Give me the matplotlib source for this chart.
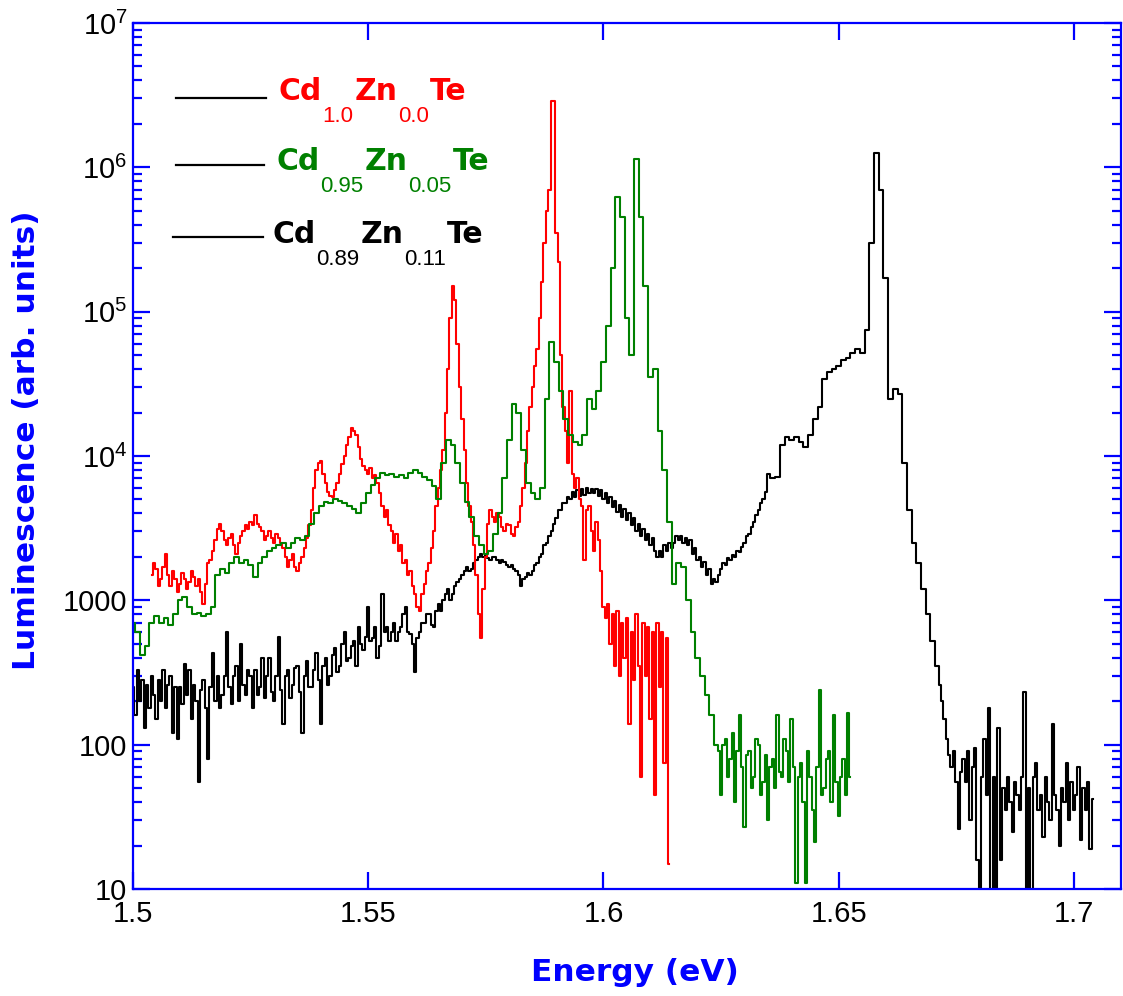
import numpy as np
import matplotlib
matplotlib.use("Agg")
import matplotlib.pyplot as plt
from matplotlib.ticker import FixedLocator, FixedFormatter, NullLocator
from matplotlib.lines import Line2D

# ---------------- data ----------------
# Each spectrum is stored as segments: (first energy in eV, sampling step in eV, values)

# Cd1.0Zn0.0Te  (1.5040 ... 1.6140 eV, 0.5 meV steps)
red_start, red_step = 1.5040, 0.0005
red_vals = [
    1500, 1800, 1650, 1250, 1400, 1700, 2100, 1500, 1250, 1600,
    1400, 1150, 1300, 1550, 1400, 1200, 1350, 1600, 1450, 1250,
    1400, 1150, 950, 1300, 1800, 1900, 2200, 2600, 3100, 3400,
    3000, 2600, 2400, 2700, 2900, 2400, 2100, 2500, 2800, 3000,
    3300, 3100, 3500, 3300, 3900, 3400, 3200, 3000, 2600, 2800,
    3000, 2700, 2500, 2900, 2700, 2500, 2300, 2000, 1700, 1900,
    2100, 1700, 1600, 1800, 2000, 2300, 2700, 3300, 4200, 6000,
    8000, 9000, 9300, 7500, 6500, 5600, 5300, 5200, 5800, 6500,
    7500, 8800, 10000, 12000, 13500, 15600, 15000, 14000, 11500, 9500,
    8500, 8000, 7500, 8200, 7000, 7400, 6500, 5500, 4500, 3800,
    4200, 3300, 3000, 2500, 2900, 2200, 2400, 1800, 1900, 1500,
    1600, 1250, 1100, 900, 850, 1100, 1300, 1600, 1800, 2300,
    3000, 4500, 6000, 8000, 11000, 20000, 40000, 90000, 150000, 120000,
    60000, 30000, 18000, 11000, 6500, 4500, 3500, 2400, 1500, 800,
    550, 1200, 2000, 3400, 4200, 3800, 3500, 4000, 3800, 3200,
    3000, 3400, 3300, 2900, 2800, 3200, 3500, 4500, 6000, 9000,
    15000, 22000, 30000, 42000, 55000, 90000, 160000, 300000, 500000, 700000,
    2900000, 2900000, 350000, 220000, 50000, 22000, 15000, 9000, 28000, 7500,
    6000, 7000, 5000, 4500, 1900, 4200, 4500, 3000, 2200, 3500,
    2600, 1600, 900, 750, 950, 500, 800, 350, 850, 300,
    700, 400, 750, 140, 600, 280, 800, 350, 60, 700,
    300, 650, 150, 600, 45, 700, 250, 600, 75, 550,
    15,
]

# Cd0.95Zn0.05Te  main part (1 meV steps) and noisy tail (0.5 meV steps)
green_start, green_step = 1.500, 0.001
green_vals = [
    700, 600, 420, 480, 700, 780, 700, 750, 680, 800,
    1000, 1050, 900, 800, 820, 780, 800, 900, 1500, 1650,
    1550, 1800, 2000, 1800, 1900, 1750, 1450, 1800, 2000, 2200,
    2300, 2400, 2500, 2300, 2500, 2700, 2600, 2800, 3400, 4000,
    4500, 4800, 4700, 5000, 4900, 4700, 4500, 4300, 4000, 4700,
    5500, 6300, 7000, 7600, 7400, 7500, 7200, 7400, 7000, 7600,
    8000, 7600, 7200, 6800, 6200, 5000, 9000, 13000, 12000, 9000,
    6500, 4800, 3800, 2800, 2400, 2100, 2200, 2900, 4000, 7000,
    13000, 23000, 20000, 11000, 6500, 5500, 5000, 6000, 25000, 62000,
    45000, 28000, 18000, 14000, 12500, 12000, 14000, 25000, 21000, 28000,
    45000, 80000, 200000, 620000, 450000, 90000, 50000, 1150000, 450000, 150000,
    35000, 40000, 15000, 8000, 3500, 1300, 1800, 1700, 1000, 600,
    400, 300, 220, 160, 100,
]
green_tail_start, green_tail_step = 1.6245, 0.0005
green_tail_vals = [
    90, 45, 100, 110, 60, 80, 120, 40, 90, 160,
    70, 27, 85, 90, 50, 60, 110, 100, 45, 55,
    85, 30, 70, 80, 50, 160, 65, 60, 110, 90,
    55, 150, 70, 11, 60, 75, 40, 11, 90, 60,
    35, 21, 70, 240, 45, 50, 80, 90, 40, 160,
    55, 32, 60, 80, 45, 165, 60,
]

# Cd0.89Zn0.11Te  three segments
black_a_start, black_a_step = 1.5000, 0.0005
black_a_vals = [
    250, 160, 330, 200, 280, 130, 260, 180, 300, 220,
    150, 280, 200, 330, 180, 260, 300, 120, 250, 110,
    250, 190, 360, 220, 330, 150, 260, 200, 55, 240,
    280, 180, 80, 250, 430, 200, 300, 180, 220, 300,
    600, 250, 190, 300, 350, 200, 500, 260, 220, 330,
    300, 180, 330, 220, 250, 400, 210, 300, 400, 230,
    200, 300, 560, 240, 140, 300, 330, 210, 260, 340,
    350, 230, 120, 300, 380, 250, 250, 330, 430, 280,
    140, 350, 400, 260, 300, 420, 470, 320, 350, 500,
    600, 380, 400, 480, 520, 350, 650, 500, 450, 560,
    900, 520, 550, 650, 400, 480, 1100, 600, 650, 520,
    600, 700, 520, 600, 650, 800, 900, 600, 580, 500,
    320, 550, 600, 700, 700, 800, 800, 680, 650, 850,
    950, 850, 1000, 1100, 1200, 1000, 1100, 1250, 1350, 1400,
    1500, 1600, 1700, 1600, 1650, 1800, 1900, 2000, 2100, 2000,
    2050, 1950, 1900, 2000, 2000, 1900, 1800, 1900, 1850, 1750,
    1700, 1750, 1650, 1600, 1500, 1250, 1400, 1450, 1550, 1500,
    1600, 1750, 1800, 2000, 2100, 2400, 2500, 2800, 3000, 3400,
    3700, 4200, 4200, 4700, 4700, 5200, 5000, 5600, 5200, 5800,
    5300, 5900, 5400, 6000, 5500, 5900, 5500, 5900, 5300, 5800,
    5000, 5500, 4700, 5200, 4400, 4900, 4100, 4600, 3800, 4300,
    3600, 4000, 3300, 3700, 3000, 3400, 2800, 3100, 2600, 2900,
    2400, 2700, 2200, 2000, 2200, 2000, 2400, 2200, 2500, 2300,
    2500, 2800, 2600, 2800, 2500, 2700, 2400, 2600, 2100, 2300,
    1900, 2000, 1700, 1850, 1500, 1650, 1300, 1400, 1350, 1500,
    1650, 1800, 1750, 1950, 1900, 2050, 2000, 2200, 2150, 2350,
    2500, 2800, 2900, 3200, 3500, 3900, 4200, 4700, 5000, 5600,
]
black_b_start, black_b_step = 1.635, 0.001
black_b_vals = [
    7500, 7000, 7200, 12000, 13500, 13000, 13500, 12500, 11500, 14000,
    18000, 22000, 34000, 38000, 40000, 42000, 46000, 48000, 52000, 55000,
    52000, 75000, 300000, 1250000, 700000, 170000, 25000, 29000, 27000, 9000,
    4200, 2500, 1800, 1200, 800, 520, 350,
]
black_c_start, black_c_step = 1.6715, 0.0005
black_c_vals = [
    260, 200, 150, 110, 85, 70, 90, 55, 26, 65,
    80, 55, 90, 30, 70, 95, 16, 9, 60, 110,
    45, 180, 9, 60, 9, 130, 16, 50, 35, 60,
    40, 25, 55, 45, 35, 60, 230, 9, 50, 9,
    60, 75, 35, 45, 23, 60, 40, 30, 140, 45,
    35, 20, 50, 40, 75, 30, 55, 35, 45, 70,
    22, 50, 35, 55, 19, 42,
]

series = [
    ([(black_a_start, black_a_step, black_a_vals),
      (black_b_start, black_b_step, black_b_vals),
      (black_c_start, black_c_step, black_c_vals)], "black"),
    ([(red_start, red_step, red_vals)], "#ff0000"),
    ([(green_start, green_step, green_vals),
      (green_tail_start, green_tail_step, green_tail_vals)], "#008000"),
]

x_ticks = [1.5, 1.55, 1.6, 1.65, 1.7]
x_tick_labels = ["1.5", "1.55", "1.6", "1.65", "1.7"]
y_ticks = [10, 100, 1000, 1e4, 1e5, 1e6, 1e7]
y_tick_labels = ["10", "100", "1000", r"$10^{4}$", r"$10^{5}$", r"$10^{6}$", r"$10^{7}$"]
y_minor = [m * 10.0 ** d for d in range(1, 7) for m in range(2, 10)]

legend_entries = [
    ([("Cd", False), ("1.0", True), ("Zn", False), ("0.0", True), ("Te", False)], "#ff0000"),
    ([("Cd", False), ("0.95", True), ("Zn", False), ("0.05", True), ("Te", False)], "#008000"),
    ([("Cd", False), ("0.89", True), ("Zn", False), ("0.11", True), ("Te", False)], "black"),
]

x_label = "Energy (eV)"
y_label = "Luminescence (arb. units)"

# ---------------- style ----------------
BLUE = "#0000ff"
plt.rcParams["mathtext.fontset"] = "custom"
plt.rcParams["mathtext.rm"] = "Liberation Sans"
plt.rcParams["mathtext.it"] = "Liberation Sans"
plt.rcParams["mathtext.bf"] = "Liberation Sans:bold"

W_PX, H_PX = 1123, 996
fig = plt.figure(figsize=(W_PX / 100, H_PX / 100), dpi=100)
L, R, T, B = 133, 1121, 23, 889
ax = fig.add_axes([L / W_PX, 1 - B / H_PX, (R - L) / W_PX, (B - T) / H_PX])

for segments, col in series:
    e_parts, v_parts = [], []
    for start, step, vals in segments:
        vals = np.asarray(vals, dtype=float)
        e_parts.append(start + step * np.arange(len(vals)))
        v_parts.append(vals)
    ax.plot(np.concatenate(e_parts), np.concatenate(v_parts),
            drawstyle="steps-mid", color=col, lw=1.5)

ax.set_yscale("log")
ax.set_xlim(1.5, 1.71)
ax.set_ylim(10, 1e7)

ax.xaxis.set_major_locator(FixedLocator(x_ticks))
ax.xaxis.set_major_formatter(FixedFormatter(x_tick_labels))
ax.xaxis.set_minor_locator(NullLocator())
ax.yaxis.set_major_locator(FixedLocator(y_ticks))
ax.yaxis.set_major_formatter(FixedFormatter(y_tick_labels))
ax.yaxis.set_minor_locator(FixedLocator(y_minor))

for sp in ax.spines.values():
    sp.set_color(BLUE)
    sp.set_linewidth(1.6)

ax.tick_params(which="major", direction="in", length=12, width=1.6, color=BLUE,
               top=True, right=True, labelsize=21, labelcolor="black")
ax.tick_params(which="minor", direction="in", length=6.5, width=1.6, color=BLUE,
               left=True, right=True)
ax.tick_params(axis="x", pad=8)
ax.tick_params(axis="y", pad=4)
for lab in ax.get_xticklabels() + ax.get_yticklabels():
    lab.set_fontfamily("Liberation Sans")

ax.set_xlabel(x_label, fontsize=22.5, fontweight="bold", color=BLUE, family="DejaVu Sans")
ax.set_ylabel(y_label, fontsize=22.5, fontweight="bold", color=BLUE, family="DejaVu Sans")
ax.xaxis.set_label_coords((635 - L) / (R - L), (B - 972) / (B - T))
ax.yaxis.set_label_coords((27 - L) / (R - L), (B - 440) / (B - T))
ax.xaxis.label.set_va("center")
ax.yaxis.label.set_va("center")

# ---------------- legend (lines + coloured formulas with subscripts) ----------------
fig.canvas.draw()
renderer = fig.canvas.get_renderer()
leg_lines = [(176, 266, 98), (176, 264, 165), (173, 263, 237)]
leg_text = [(278, 100), (276, 170), (272, 243)]
SUB_DROP = 22
for (pieces, col), (lx0, lx1, ly), (tx, ty) in zip(legend_entries, leg_lines, leg_text):
    fig.add_artist(Line2D([lx0 / W_PX, lx1 / W_PX], [1 - ly / H_PX] * 2,
                          transform=fig.transFigure, color="black", lw=1.6))
    x = tx
    for txt, is_sub in pieces:
        y = ty + (SUB_DROP if is_sub else 0)
        if is_sub:
            t = fig.text(x / W_PX, 1 - y / H_PX, txt, color=col, fontsize=16,
                         family="Liberation Sans", ha="left", va="baseline")
        else:
            t = fig.text(x / W_PX, 1 - y / H_PX, txt, color=col, fontsize=21.5,
                         fontweight="bold", family="DejaVu Sans", ha="left", va="baseline")
        x += t.get_window_extent(renderer).width + 1

fig.savefig("out.png", dpi=100)
